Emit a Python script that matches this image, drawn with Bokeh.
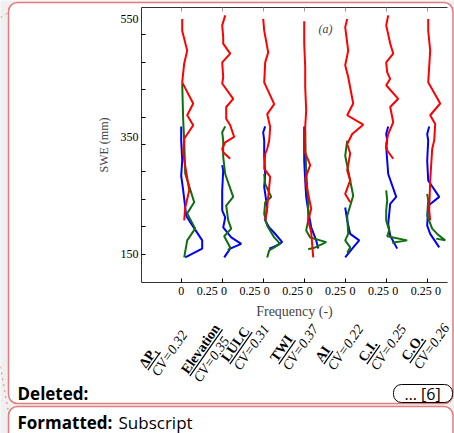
import math
from bokeh.plotting import figure
from bokeh.models import LinearAxis, FixedTicker, Label, Range1d, GridBox
from bokeh.core.properties import value
from bokeh.embed import file_html
from bokeh.resources import INLINE

# ---------------- data ----------------
panel_names = ["ΔP₁", "Elevation", "LULC", "TWI", "AI", "C.I.", "C.O."]
cv_values = ["0.32", "0.35", "0.31", "0.37", "0.22", "0.25", "0.26"]

red_swe = [
    [551, 531, 497, 475, 443, 407, 387, 370, 347, 322, 259, 230, 208],
    [557, 540, 520, 509, 492, 477, 452, 441, 415, 401, 381, 370, 350, 341, 330, 324, 313],
    [551, 531, 494, 477, 443, 406, 389, 367, 344, 330, 321, 296, 282, 265, 230, 208],
    [547, 509, 469, 435, 395, 367, 330, 327, 302, 279, 253, 228, 208, 188, 145],
    [551, 537, 497, 472, 452, 407, 387, 371, 355, 338, 322, 293, 276, 253, 239],
    [557, 540, 509, 492, 477, 460, 449, 438, 415, 401, 384, 375, 355, 338, 327, 313],
    [551, 531, 497, 443, 407, 387, 372, 344, 330, 276, 225, 208],
]
red_freq = [
    [0.01, 0.01, 0.06, 0.03, 0.01, 0.12, 0.06, 0.12, 0.03, 0.02, 0.08, 0.04, 0.03],
    [0.03, 0.00, 0.01, 0.01, 0.08, 0.00, 0.01, 0.00, 0.11, 0.04, 0.04, 0.08, 0.12, 0.03, 0.00, 0.01, 0.08],
    [0.00, 0.01, 0.05, 0.02, 0.01, 0.11, 0.04, 0.07, 0.06, 0.04, 0.02, 0.01, 0.07, 0.06, 0.04, 0.02],
    [0.00, 0.00, 0.01, 0.01, 0.02, 0.01, 0.01, 0.00, 0.06, 0.01, 0.04, 0.07, 0.04, 0.07, 0.09],
    [0.02, 0.00, 0.03, 0.00, 0.03, 0.08, 0.02, 0.18, 0.07, 0.02, 0.05, 0.02, 0.05, 0.00, 0.05],
    [0.02, 0.00, 0.04, 0.07, 0.00, 0.01, 0.04, 0.00, 0.12, 0.04, 0.06, 0.07, 0.02, 0.00, 0.01, 0.07],
    [0.01, 0.01, 0.03, 0.01, 0.13, 0.03, 0.08, 0.07, 0.05, 0.03, 0.02, 0.03],
]
green_swe = [
    [441, 378, 344, 288, 239, 220, 194, 174, 145],
    [368, 358, 344, 316, 287, 248, 233, 208, 194, 181, 162, 157],
    [287, 270, 248, 239, 219, 199, 179, 168, 157, 145],
    [361, 344, 293, 236, 208, 191, 179, 171, 162, 159],
    [344, 318, 293, 250, 216, 185, 174, 162, 153],
    [259, 242, 225, 208, 191, 181, 174, 170],
    [253, 242, 216, 194, 185, 174, 177],
]
green_freq = [
    [0.01, 0.02, 0.03, 0.04, 0.13, 0.06, 0.14, 0.06, 0.03],
    [0.03, 0.00, 0.01, 0.01, 0.03, 0.11, 0.04, 0.06, 0.09, 0.02, 0.08, 0.06],
    [0.01, 0.02, 0.08, 0.02, 0.01, 0.04, 0.11, 0.17, 0.06, 0.04],
    [0.01, 0.01, 0.02, 0.04, 0.04, 0.02, 0.06, 0.22, 0.11, 0.04],
    [0.02, 0.00, 0.03, 0.08, 0.02, 0.03, 0.00, 0.05, 0.02],
    [0.00, 0.01, 0.00, 0.00, 0.03, 0.01, 0.21, 0.06],
    [0.00, 0.01, 0.00, 0.05, 0.10, 0.18, 0.09],
]
blue_swe = [
    [368, 344, 310, 284, 259, 216, 205, 174, 160, 145],
    [302, 293, 259, 225, 213, 196, 179, 168, 160, 145],
    [368, 358, 344, 316, 287, 265, 230, 208, 196, 187, 171, 164, 160],
    [368, 310, 276, 248, 225, 196, 174, 160],
    [230, 208, 185, 174, 160, 145],
    [368, 355, 344, 333, 310, 287, 248, 236, 202, 182, 160],
    [368, 355, 344, 310, 276, 248, 233, 199, 185, 162],
]
blue_freq = [
    [0.00, 0.00, 0.01, 0.00, 0.02, 0.05, 0.09, 0.21, 0.21, 0.04],
    [0.00, 0.01, 0.00, 0.00, 0.03, 0.01, 0.09, 0.19, 0.08, 0.02],
    [0.02, 0.00, 0.01, 0.01, 0.02, 0.01, 0.04, 0.02, 0.06, 0.11, 0.19, 0.12, 0.06],
    [0.00, 0.00, 0.01, 0.02, 0.04, 0.07, 0.12, 0.14],
    [0.00, 0.02, 0.05, 0.14, 0.07, 0.00],
    [0.02, 0.00, 0.01, 0.00, 0.01, 0.02, 0.10, 0.04, 0.02, 0.04, 0.11],
    [0.02, 0.00, 0.01, 0.00, 0.01, 0.12, 0.01, 0.00, 0.03, 0.12],
]

y_tick_values = [150, 350, 550]
x_tick_texts = ["0", "0.25"]

# ---------------- layout parameters ----------------
W, H = 454, 433
PANEL_STEP = 0.41
panel_pos = [PANEL_STEP * i for i in range(len(panel_names))]
zero_label_pos = [0.428 * i for i in range(7)]
quarter_label_pos = [z + 0.26 for z in zero_label_pos[:-1]]
y_minor = [150 + 46.8 * k for k in range(9)]

SERIF = "Liberation Serif"
SANS = "Open Sans"
PINK = "#e27c7f"


def fy(y):              # page pixel (from top) -> background data y
    return H - y


# ===== background "page" layer: frame = whole canvas, units = pixels =====
bg = figure(width=W, height=H, x_range=Range1d(0, W), y_range=Range1d(0, H),
            x_axis_type=None, y_axis_type=None, output_backend="svg", toolbar_location=None,
            min_border=0, min_border_left=0, min_border_right=0, min_border_top=0, min_border_bottom=0,
            frame_align=False)
bg.outline_line_color = None
bg.background_fill_color = "#f0f0f0"
bg.border_fill_color = "#f0f0f0"

# balloons
bg.quad(left=[8, 8], right=[452.5, 452.5], top=[fy(2), fy(406)], bottom=[fy(403), fy(460)],
        fill_color="white", line_color=PINK, line_width=1.5, border_radius=9)
# dotted connectors
bg.segment(x0=[0, 0], y0=[fy(17), fy(366)], x1=[8, 8], y1=[fy(12), fy(412)],
           line_color=PINK, line_width=1, line_dash="dotted")

# rotated category labels (positions in page pixels, y from top)
ang = math.radians(55)
dx_, dy_ = math.cos(ang), -math.sin(ang)       # text direction on the page
ux_, uy_ = -math.sin(ang), -math.cos(ang)      # text "up" on the page
cv_base = [(158, 377), (200, 383), (240, 371), (289, 371), (334, 371), (377, 371), (420, 370)]
name_len = [22, 57, 39, 29, 16, 23, 28]
FS = 14
MID = 4.8          # middle of the text above its baseline
LS = 15            # baseline-to-baseline distance
cv_x = [bx + ux_ * MID for bx, by in cv_base]
cv_y = [by + uy_ * MID for bx, by in cv_base]
nm_x = [bx + ux_ * (MID + LS) for bx, by in cv_base]
nm_y = [by + uy_ * (MID + LS) for bx, by in cv_base]
ul_x0 = [bx + ux_ * (LS - 2) for bx, by in cv_base]
ul_y0 = [by + uy_ * (LS - 2) for bx, by in cv_base]
bg.text(x=cv_x, y=[fy(v) for v in cv_y], text=["CV=" + c for c in cv_values], angle=ang,
        text_font=value(SERIF), text_font_style="italic", text_font_size=f"{FS}px",
        text_align="left", text_baseline="middle", text_color="black")
bg.text(x=nm_x, y=[fy(v) for v in nm_y], text=panel_names, angle=ang,
        text_font=value(SERIF), text_font_style="bold", text_font_size=f"{FS}px",
        text_align="left", text_baseline="middle", text_color="black")
bg.segment(x0=ul_x0, y0=[fy(v) for v in ul_y0],
           x1=[x + dx_ * L for x, L in zip(ul_x0, name_len)],
           y1=[fy(y + dy_ * L) for y, L in zip(ul_y0, name_len)], line_color="black", line_width=1.2)

# balloon texts
bg.quad(left=[393], right=[452], top=[fy(384)], bottom=[fy(402)], fill_color="white",
        line_color="black", line_width=1, border_radius=8)
bg.text(x=[422], y=[fy(393)], text=["… [6]"], text_font=value(SANS), text_font_size="16px",
        text_align="center", text_baseline="middle", text_color="black")
bg.text(x=[17, 17], y=[fy(393), fy(421.5)], text=["Deleted:", "Formatted:"], text_font=value(SANS),
        text_font_style="bold", text_font_size="17px", text_baseline="middle", text_color="black")
bg.text(x=[118], y=[fy(421.5)], text=["Subscript"], text_font=value(SANS), text_font_size="17px",
        text_baseline="middle", text_color="black")

# ===== chart layer (transparent) =====
p = figure(width=W, height=H, x_range=Range1d(-0.397, 2.663), y_range=Range1d(102.3, 570.4),
           x_axis_type=None, y_axis_type=None, output_backend="svg", toolbar_location=None,
           min_border_left=141, min_border_right=7, min_border_top=7, min_border_bottom=151,
           frame_align=False)
p.outline_line_color = None
p.background_fill_alpha = 0
p.border_fill_alpha = 0

for i in range(len(panel_names)):
    off = panel_pos[i]
    for fr, sw, col in [(blue_freq[i], blue_swe[i], "#0000ff"),
                        (green_freq[i], green_swe[i], "#0f6e0f"),
                        (red_freq[i], red_swe[i], "#ff0000")]:
        p.line([off + f for f in fr], sw, line_color=col, line_width=2)

xb = LinearAxis(ticker=FixedTicker(ticks=zero_label_pos + quarter_label_pos, minor_ticks=panel_pos),
                axis_label="Frequency (-)")
xb.major_label_overrides = {**{v: x_tick_texts[0] for v in zero_label_pos},
                            **{v: x_tick_texts[1] for v in quarter_label_pos}}
xb.major_tick_in = 0; xb.major_tick_out = 0
xb.minor_tick_in = 4; xb.minor_tick_out = 0
xb.major_label_standoff = 4
xb.major_label_text_font = SERIF; xb.major_label_text_font_size = "12px"; xb.major_label_text_color = "black"
xb.axis_label_text_font = SERIF; xb.axis_label_text_font_size = "14px"; xb.axis_label_text_font_style = "normal"
xb.axis_label_standoff = 6
xb.axis_line_color = "#333333"
p.add_layout(xb, "below")

xt = LinearAxis(ticker=FixedTicker(ticks=[], minor_ticks=panel_pos))
xt.major_tick_in = 0; xt.major_tick_out = 0
xt.minor_tick_in = 4; xt.minor_tick_out = 0
xt.minor_tick_line_color = "#999999"
xt.major_label_text_font_size = "0px"; xt.major_label_standoff = 0
xt.axis_line_color = "#333333"
p.add_layout(xt, "above")

yl = LinearAxis(ticker=FixedTicker(ticks=y_tick_values, minor_ticks=y_minor), axis_label="SWE (mm)")
yl.major_tick_in = 0; yl.major_tick_out = 0
yl.minor_tick_in = 4; yl.minor_tick_out = 0
yl.major_label_standoff = 3
yl.major_label_text_font = SERIF; yl.major_label_text_font_size = "12px"; yl.major_label_text_color = "black"
yl.axis_label_text_font = SERIF; yl.axis_label_text_font_size = "12px"; yl.axis_label_text_font_style = "normal"
yl.axis_label_standoff = 7
yl.axis_line_color = "#333333"
p.add_layout(yl, "left")

p.add_layout(Label(x=325, y=28, x_units="canvas", y_units="canvas", text="(a)", text_font=SERIF,
                   text_font_style="italic", text_font_size="12px", text_align="center",
                   text_baseline="middle"))

page = GridBox(children=[(bg, 0, 0), (p, 0, 0)], width=W, height=H)
open("out.html", "w").write(file_html(page, INLINE))
